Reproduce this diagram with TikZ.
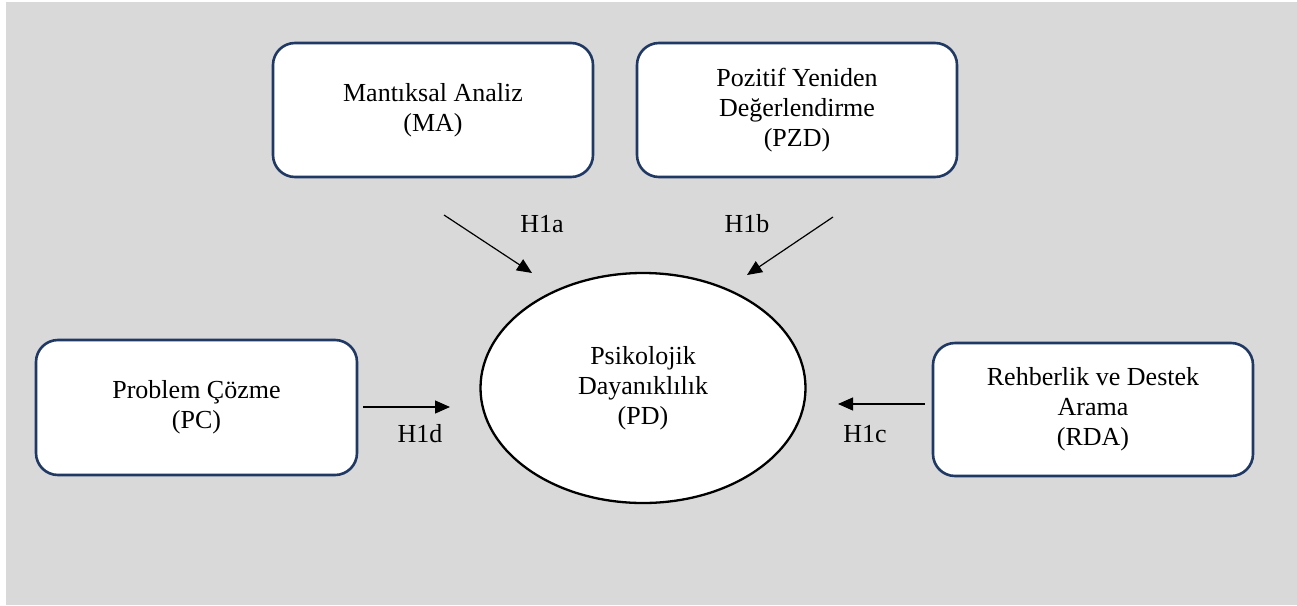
\documentclass[tikz,border=0pt]{standalone}
\usepackage{fontspec}
\setmainfont{Liberation Serif}
\usetikzlibrary{arrows.meta,shapes.geometric}
\definecolor{bggray}{HTML}{D9D9D9}
\definecolor{navy}{HTML}{1F3864}
\begin{document}
\begin{tikzpicture}[x=1pt,y=-1pt,
  every node/.style={font=\fontsize{26}{30}\selectfont},
  varbox/.style={draw=navy,line width=2.6pt,fill=white,rounded corners=22pt,
    align=center,inner sep=0pt,minimum width=320pt,minimum height=134pt},
  centre/.style={draw=black,line width=2.3pt,fill=white,ellipse,align=center,inner sep=0pt},
  hyp/.style={line width=1.2pt,-{Triangle[length=15pt,width=13pt]}},
  lab/.style={inner sep=0pt}]
\useasboundingbox (0,0) rectangle (1297,605);
\fill[white] (0,0) rectangle (1297,605);
\fill[bggray] (6,2) rectangle (1297,605);
\node[varbox] (MA) at (433,110) {Mantıksal Analiz\\(MA)};
\node[varbox] (PZD) at (797,110) {Pozitif Yeniden\\Değerlendirme\\(PZD)};
\node[varbox,minimum width=321pt,minimum height=135pt] (PC) at (196.5,407.5) {Problem Çözme\\(PC)};
\node[varbox,minimum height=133pt] (RDA) at (1093,409.5) {Rehberlik ve Destek\\Arama\\(RDA)};
\node[centre,minimum width=325pt,minimum height=230pt] (PD) at (643,388) {Psikolojik\\Dayanıklılık\\(PD)};
\coordinate (as) at (444,215); \coordinate (ae) at (532,273);
\coordinate (bs) at (833,217); \coordinate (be) at (747,275);
\coordinate (ds) at (363,407); \coordinate (de) at (450,407);
\coordinate (cs) at (925,404); \coordinate (ce) at (838,404);
\draw[hyp] (as) -- (ae);
\draw[hyp] (bs) -- (be);
\draw[hyp] (ds) -- (de);
\draw[hyp] (cs) -- (ce);
\node[lab] (la) at (542,224) {H1a};
\node[lab] (lb) at (747,224) {H1b};
\node[lab] (ld) at (420,434) {H1d};
\node[lab] (lc) at (865,434) {H1c};
\end{tikzpicture}
\end{document}
